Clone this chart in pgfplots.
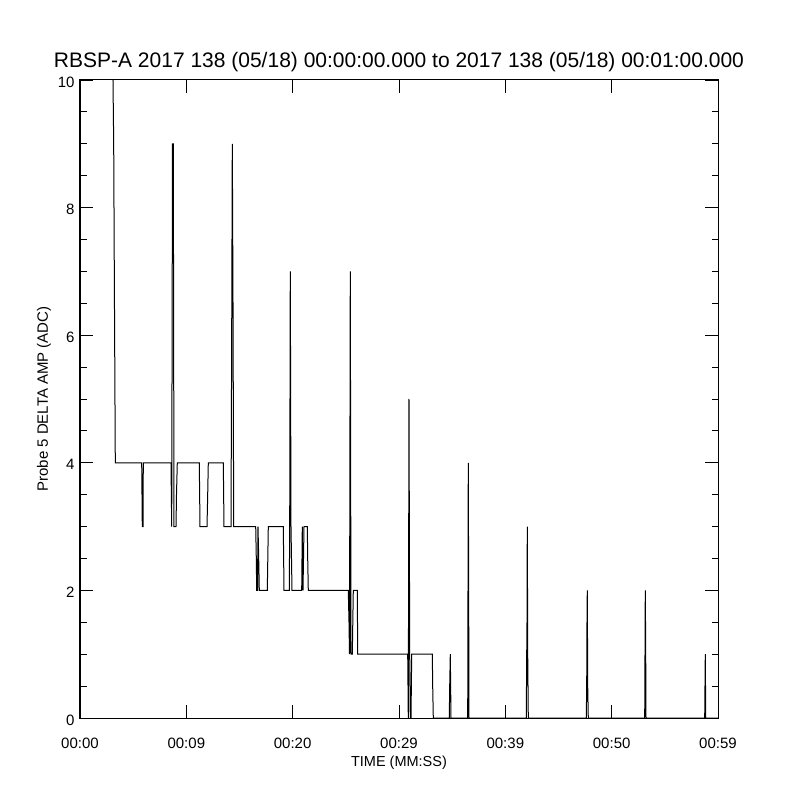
\documentclass[border=0pt]{standalone}
\usepackage{pgfplots}
\pgfplotsset{compat=1.18}
\usepackage{fontspec}
\setmainfont{Liberation Sans}
\begin{document}
\begin{tikzpicture}[x=1pt,y=1pt]
\path (-80,-82) rectangle (720,718);
\begin{axis}[
  at={(0,0)}, anchor=south west,
  width=638pt, height=638pt, scale only axis,
  xmin=0, xmax=60, ymin=0, ymax=10,
  xtick={0,10,...,60},
  xticklabels={00:00,00:09,00:20,00:29,00:39,00:50,00:59},
  ytick={0,2,...,10},
  minor ytick={0,0.5,...,10},
  tick align=inside,
  major tick length=13pt, minor tick length=6.5pt,
  tick style={black, line width=0.8pt},
  axis line style={line width=1pt},
  ticklabel style={font=\fontsize{15}{18}\selectfont},
  /pgf/number format/assume math mode=true,
  xticklabel style={yshift=-16pt},
  yticklabel style={xshift=-2pt, yshift=-2pt},
  xlabel={TIME (MM:SS)},
  xlabel style={font=\fontsize{14.5}{17}\selectfont, yshift=-1pt},
  ylabel={Probe 5 DELTA AMP (ADC)},
  ylabel style={font=\fontsize{15}{18}\selectfont},
  title={RBSP-A 2017 138 (05/18) 00:00:00.000 to 2017 138 (05/18) 00:01:00.000},
  title style={font=\fontsize{21}{25}\selectfont, yshift=-1pt},
]
\addplot[black, line width=1pt, sharp plot] coordinates {
(3.103,10) (3.169,9) (3.226,7) (3.320,4)
(5.803,4) (5.831,3.5) (5.859,3) (5.925,3) (5.953,4)
(8.558,4) (8.624,3) (8.699,9) (8.774,9) (8.840,3) (9.028,3) (9.075,3.5) (9.150,4)
(11.219,4) (11.285,3) (11.944,3) (12.009,3.5) (12.066,4)
(13.477,4) (13.542,3) (14.201,3) (14.266,6) (14.323,9) (14.389,6.5) (14.455,3)
(16.524,3) (16.580,2.5) (16.618,2) (16.693,2) (16.740,3) (16.806,2.5) (16.862,2)
(17.615,2) (17.709,3) (19.119,3) (19.185,2)
(19.683,2) (19.721,3) (19.777,7) (19.843,3) (19.937,2)
(20.850,2) (20.906,3) (20.972,2) (21.066,3) (21.188,3) (21.376,3) (21.414,2.5) (21.470,2)
(25.232,2) (25.298,1.5) (25.345,1) (25.420,7) (25.486,1) (25.608,1) (25.702,2)
(26.078,2) (26.116,1)
(30.781,1) (30.818,1) (30.847,0.5) (30.875,0) (30.940,5) (31.006,1) (31.063,0) (31.129,0) (31.194,1)
(33.132,1) (33.169,0.5) (33.226,0)
(34.731,0) (34.768,0.5) (34.825,1) (34.890,0)
(36.461,0) (36.517,4) (36.583,0)
(41.972,0) (42.010,1) (42.038,1.5) (42.066,3) (42.104,1) (42.160,0)
(47.614,0) (47.652,0.5) (47.680,1.5) (47.708,2) (47.746,0.5) (47.802,0)
(53.107,0) (53.135,1) (53.163,2) (53.201,1) (53.229,0)
(58.749,0) (58.777,0.5) (58.806,1) (58.843,0) (60,0)
};
\end{axis}
\end{tikzpicture}
\end{document}
